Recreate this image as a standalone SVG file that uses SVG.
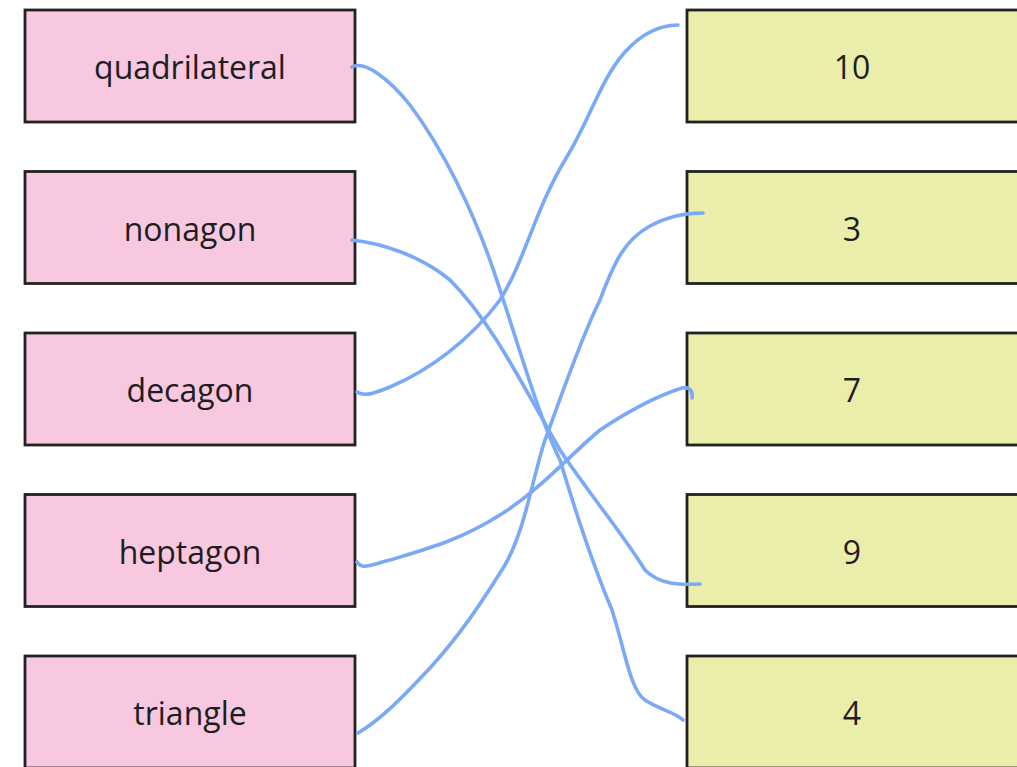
<svg xmlns="http://www.w3.org/2000/svg" width="1017" height="767" viewBox="0 0 1017 767">
<style>
.l rect{fill:#f8c8e1;stroke:#222;stroke-width:2.8}
.r rect{fill:#ebeeab;stroke:#222;stroke-width:2.8}
text{font-family:"Open Sans","Noto Sans",sans-serif;font-size:32px;font-weight:500;fill:#1e1e1e;text-anchor:middle}
#connectors path{fill:none;stroke:#79a9f7;stroke-width:3.6;stroke-linecap:round;stroke-linejoin:round}
</style>
<rect width="1017" height="767" fill="#fff"/>
<g id="n-quadrilateral" class="l"><rect x="25" y="10" width="330" height="112"/><text x="190" y="79">quadrilateral</text></g>
<g id="n-nonagon" class="l"><rect x="25" y="171.5" width="330" height="112"/><text x="190" y="241">nonagon</text></g>
<g id="n-decagon" class="l"><rect x="25" y="333" width="330" height="112"/><text x="190" y="402">decagon</text></g>
<g id="n-heptagon" class="l"><rect x="25" y="494.5" width="330" height="112"/><text x="190" y="564">heptagon</text></g>
<g id="n-triangle" class="l"><rect x="25" y="656" width="330" height="112"/><text x="190" y="725">triangle</text></g>
<g id="n-10" class="r"><rect x="687" y="10" width="332" height="112"/><text x="852" y="79">10</text></g>
<g id="n-3" class="r"><rect x="687" y="171.5" width="332" height="112"/><text x="852" y="241">3</text></g>
<g id="n-7" class="r"><rect x="687" y="333" width="332" height="112"/><text x="852" y="402">7</text></g>
<g id="n-9" class="r"><rect x="687" y="494.5" width="332" height="112"/><text x="852" y="564">9</text></g>
<g id="n-4" class="r"><rect x="687" y="656" width="332" height="112"/><text x="852" y="725">4</text></g>
<g id="connectors">
<path d="M352,67 C365,60 390,80 410,105 C440,145 475,210 500,290 C520,350 540,420 560,460 C575,510 595,570 612,610 C625,650 630,690 645,700 C660,710 675,712 683,720"/>
<path d="M352,240 C380,243 420,255 450,280 C490,320 520,380 560,450 C590,495 620,530 645,570 C660,585 680,585 700,584"/>
<path d="M357,392 C365,397 375,393 390,387 C430,370 470,340 500,300 C525,260 535,210 565,160 C590,120 600,80 625,52 C645,30 665,25 678,25"/>
<path d="M357,562 C362,570 370,565 390,560 C430,548 460,540 500,515 C540,490 570,455 600,430 C630,410 660,395 682,388 C690,386 693,392 692,398"/>
<path d="M358,733 C380,720 400,700 430,668 C460,635 480,605 505,565 C525,530 532,480 545,440 C560,400 580,340 600,300 C615,260 625,240 650,226 C670,215 690,213 703,213"/>
</g>
</svg>
